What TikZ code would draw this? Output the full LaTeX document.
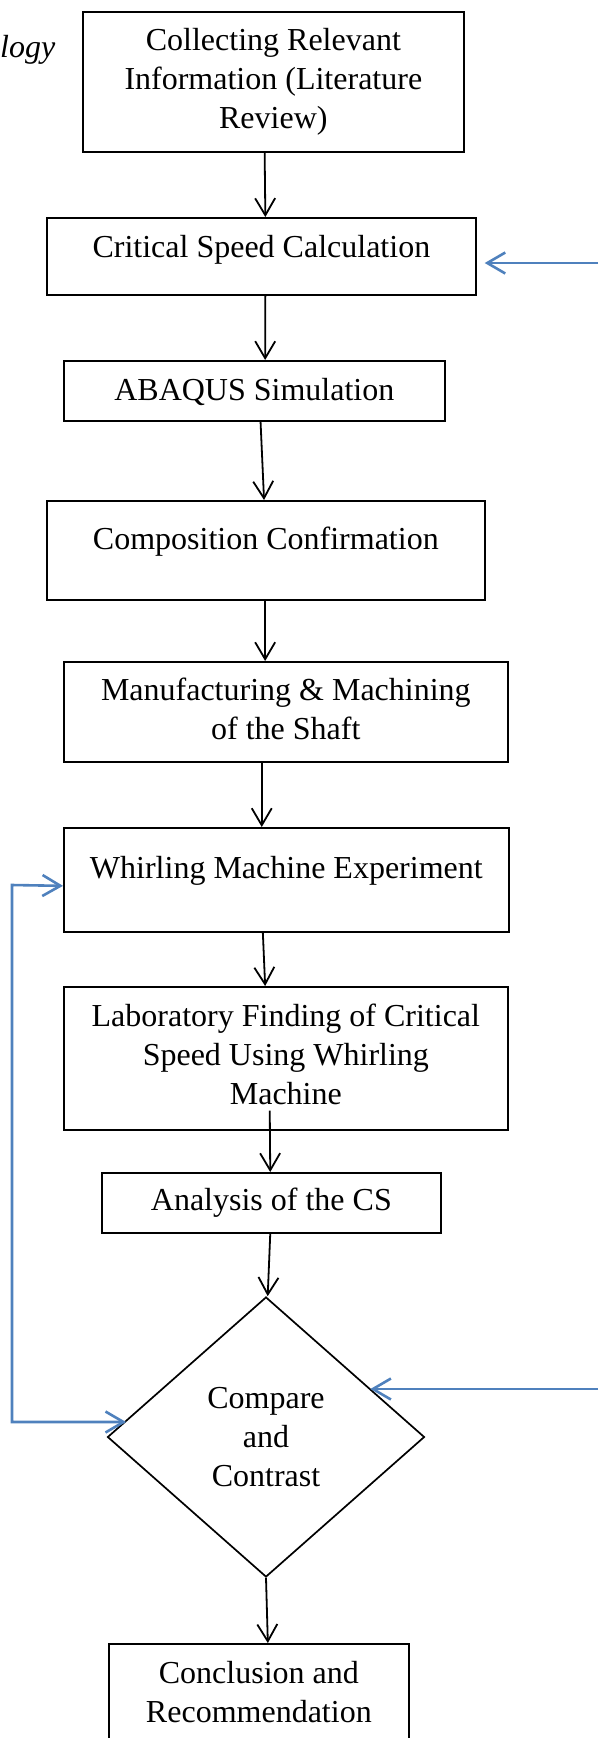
\documentclass[tikz,border=0pt]{standalone}
\usepackage{fontspec}
\setmainfont{Liberation Serif}
\usetikzlibrary{shapes.geometric,arrows.meta}
\definecolor{fbblue}{RGB}{79,129,189}
\begin{document}
\begin{tikzpicture}[x=1pt,y=-1pt,
every node/.style={font=\fontsize{32}{39}\selectfont},
stage/.style={draw,line width=1.7pt,inner sep=0pt,align=center,anchor=north west},
decide/.style={draw,line width=1.7pt,shape=diamond,inner sep=0pt,align=center,minimum width=317,minimum height=280},
link/.style={line width=1.8pt,-{Straight Barb[length=17pt,width=20pt]}},
fback/.style={draw=fbblue,line width=2.6pt,-{Straight Barb[length=18pt,width=21pt]}}]
\clip (0,0) rectangle (598,1738);

\node[anchor=base west,inner sep=0pt,font=\fontsize{32}{39}\selectfont\itshape] (cap) at (0,57) {logy};

\node[stage,minimum width=381,text height=117,text depth=23] (info) at (82,11) {Collecting Relevant\\Information (Literature\\Review)};
\node[stage,minimum width=429,text height=40,text depth=37] (crit) at (46,217) {Critical Speed Calculation};
\node[stage,minimum width=381,text height=40,text depth=20] (abq) at (63,360) {ABAQUS Simulation};
\node[stage,minimum width=438,text height=49,text depth=50] (comp) at (46,500) {Composition Confirmation};
\node[stage,minimum width=444,text height=78,text depth=22] (manu) at (63,661) {Manufacturing \& Machining\\of the Shaft};
\node[stage,minimum width=445,text height=51,text depth=53] (whirl) at (63,827) {Whirling Machine Experiment};
\node[stage,minimum width=444,text height=118,text depth=25] (lab) at (63,986) {Laboratory Finding of Critical\\Speed Using Whirling\\Machine};
\node[stage,minimum width=339,text height=38,text depth=22] (ana) at (101,1172) {Analysis of the CS};
\node[decide] (dia) at (266,1437) {Compare\\and\\Contrast};
\node[stage,minimum width=300,text height=79,text depth=61] (conc) at (108,1643) {Conclusion and\\Recommendation};

\coordinate (fbA) at (598,263);
\coordinate (fbB) at (598,1389);
\coordinate (lpA) at (12,885);
\coordinate (lpB) at (12,1422);

\draw[link] ([xshift=-8.7]info.south) -- ([xshift=4]crit.north);
\draw[link] ([xshift=4]crit.south) -- ([xshift=10.8]abq.north);
\draw[link] ([xshift=6.2]abq.south) -- ([xshift=-1.8]comp.north);
\draw[link] ([xshift=-0.7]comp.south) -- ([xshift=-20.7]manu.north);
\draw[link] ([xshift=-24.1]manu.south) -- ([xshift=-24.6]whirl.north);
\draw[link] ([xshift=-23.5]whirl.south) -- ([xshift=-20.7]lab.north);
\draw[link] ([xshift=-16.1,yshift=20]lab.south) -- ([xshift=-1.1]ana.north);
\draw[link] ([xshift=-1.1]ana.south) -- ([xshift=1.7]dia.north);
\draw[link] (dia.south) -- ([xshift=9]conc.north);

% feedback lines
\draw[fback,shorten >=8pt] (fbA) -- (crit.east |- fbA);
\draw[fback] (fbB) -- (dia.25 |- fbB);
\draw[fback,{Straight Barb[length=18pt,width=21pt]}-{Straight Barb[length=18pt,width=21pt]}] ([yshift=-6]whirl.west) -- (lpA) -- (lpB) -- (dia.173.5 |- lpB);
\end{tikzpicture}
\end{document}
